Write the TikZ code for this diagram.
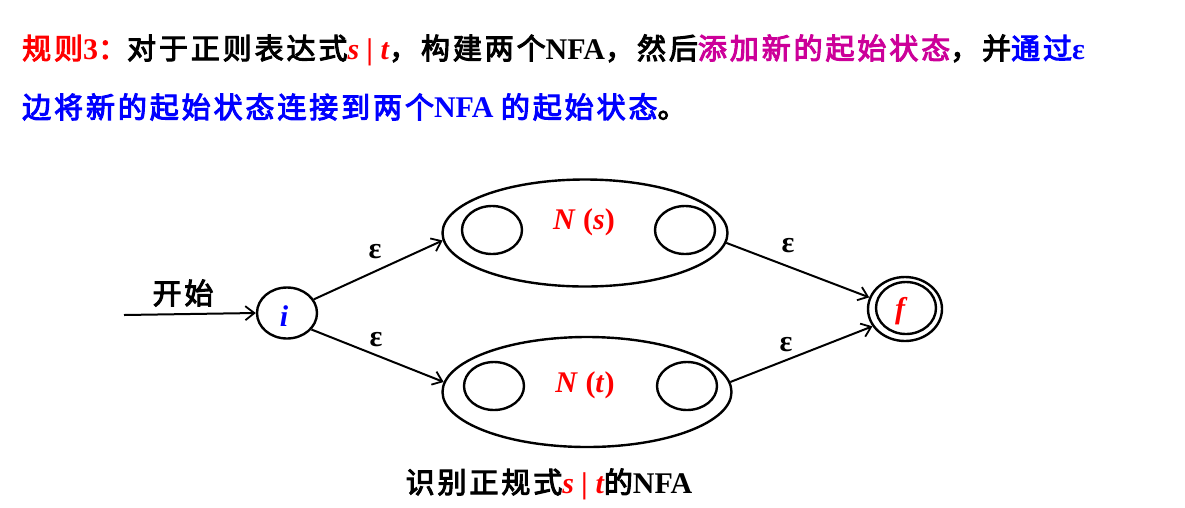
\documentclass[tikz,border=0pt]{standalone}
\usepackage{fontspec}
\setmainfont{Liberation Serif}
\newfontfamily\cjk[AutoFakeBold=3.5,LetterSpace=10]{Noto Sans CJK SC}
\usetikzlibrary{shapes.geometric,arrows.meta}
\definecolor{rred}{RGB}{255,0,0}
\definecolor{mag}{RGB}{204,0,153}
\definecolor{bblue}{RGB}{0,0,255}
\newcommand{\zh}[1]{{\fontsize{29}{34}\selectfont\cjk #1}}
\begin{document}
\begin{tikzpicture}[x=1pt,y=-1pt,
  state/.style={draw,line width=2.4pt,ellipse,inner sep=0pt},
  conn/.style={line width=2pt,-{Straight Barb[length=9pt,width=14pt,line width=1.8pt]}},
  txt/.style={font=\fontsize{30}{34}\selectfont\bfseries,inner sep=0pt},
  eps/.style={font=\fontsize{30}{34}\selectfont\bfseries,inner sep=0pt}]
\useasboundingbox (0,0) rectangle (1185,507);
% header
\node[anchor=west,txt] (h1) at (22,50)
 {\textcolor{rred}{\zh{规则}3\zh{：}}\zh{对于正则表达式}\textcolor{rred}{\itshape s | t}\zh{，构建两个}NFA\zh{，然后}\textcolor{mag}{\zh{添加新的起始状态}}\zh{，并}\textcolor{bblue}{\zh{通过}ε}};
\node[anchor=west,txt,text=bblue] (h2) at (22,107)
 {\zh{边将新的起始状态连接到两个}NFA \zh{的起始状态}\textcolor{black}{\zh{。}}};
% states
\node[state,minimum width=60pt,minimum height=51pt] (i) at (287,313) {};
\node[txt,text=bblue] (il) at (284,316) {\itshape i};
\node[state,minimum width=285pt,minimum height=107pt] (ns) at (585,233) {};
\node[state,minimum width=60pt,minimum height=48pt] (ns1) at (492,230) {};
\node[state,minimum width=60pt,minimum height=48pt] (ns2) at (685,230) {};
\node[txt,text=rred] (nsl) at (584,222) {\itshape N\/ \upshape(\itshape s\/\upshape)};
\node[state,minimum width=289pt,minimum height=110pt] (nt) at (587,392) {};
\node[state,minimum width=60pt,minimum height=48pt] (nt1) at (494,386) {};
\node[state,minimum width=60pt,minimum height=48pt] (nt2) at (687,386) {};
\node[txt,text=rred] (ntl) at (585,385) {\itshape N\/ \upshape(\itshape t\/\upshape)};
\node[state,minimum width=74pt,minimum height=64pt] (f) at (905,309) {};
\node[state,minimum width=60pt,minimum height=52pt] (fi) at (906,308) {};
\node[txt,text=rred] (fl) at (900,311) {\itshape f};
% start
\coordinate (s0) at (124,315);
\draw[conn] (s0) -- (i.west);
\node[txt] (start) at (183,293) {\zh{开始}};
% connectors
\draw[conn] (i.27) -- (ns.183);
\draw[conn] (i.-34) -- (nt.176);
\draw[conn] (ns.-4) -- (f.162);
\draw[conn] (nt.4) -- (f.208);
\node[eps] (e1) at (375,252) {ε};
\node[eps] (e2) at (376,340) {ε};
\node[eps] (e3) at (788,246) {ε};
\node[eps] (e4) at (786,345) {ε};
% caption
\node[txt] (cap) at (549,484)
 {\zh{识别正规式}\textcolor{rred}{\itshape s | t}\zh{的}NFA};
\end{tikzpicture}
\end{document}
